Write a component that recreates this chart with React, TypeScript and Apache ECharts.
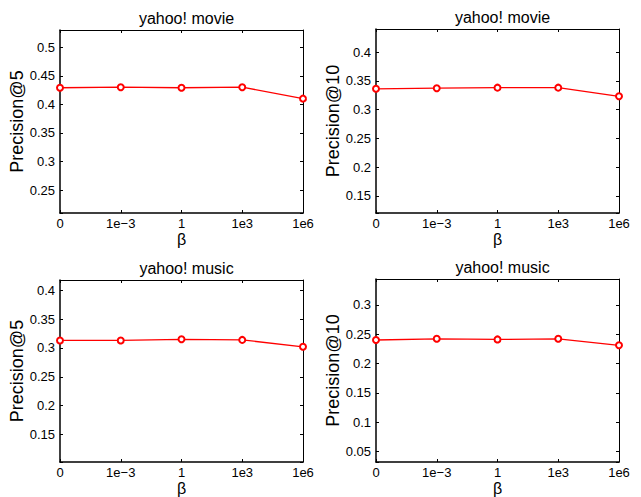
import React, { useEffect, useRef } from "react";
import * as echarts from "echarts";

const betaLabels = ["0", "1e−3", "1", "1e3", "1e6"];
const movieP5 = [0.429, 0.43, 0.429, 0.43, 0.41];
const movieP10 = [0.336, 0.337, 0.338, 0.338, 0.323];
const musicP5 = [0.313, 0.313, 0.315, 0.314, 0.302];
const musicP10 = [0.24, 0.242, 0.241, 0.242, 0.231];
const titles = ["yahoo! movie", "yahoo! movie", "yahoo! music", "yahoo! music"];
const yNames = ["Precision@5", "Precision@10", "Precision@5", "Precision@10"];
const yMins = [0.21, 0.12, 0.102, 0.032];
const yMaxs = [0.53, 0.44, 0.418, 0.344];
const allSeries = [movieP5, movieP10, musicP5, musicP10];

const FONT = "'Liberation Sans', Arial, Helvetica, sans-serif";

export default function App() {
  const ref = useRef<HTMLDivElement>(null);
  useEffect(() => {
    if (!ref.current) return;
    const chart = echarts.init(ref.current, null, { renderer: "svg" });
    const rects = [
      { left: 60, top: 30, width: 243, height: 183 },
      { left: 376, top: 29, width: 243, height: 184 },
      { left: 60, top: 280, width: 243, height: 182 },
      { left: 376, top: 279, width: 243, height: 183 },
    ];
    const fmt = (v: number) => {
      const r = Math.round(v * 20);
      if (Math.abs(v * 20 - r) > 1e-6) return "";
      return String(+v.toFixed(2));
    };
    const xAxis: any[] = [];
    const yAxis: any[] = [];
    const series: any[] = [];
    rects.forEach((_, i) => {
      xAxis.push({
        type: "category",
        gridIndex: i,
        data: betaLabels,
        boundaryGap: false,
        position: "bottom",
        name: "β",
        nameLocation: "middle",
        nameGap: 18,
        nameMoveOverlap: false,
        nameTextStyle: { fontSize: 16, color: "#000", fontFamily: FONT },
        axisLine: { show: true, lineStyle: { color: "#000", width: 1.5 } },
        axisTick: { show: true, inside: true, length: 3, lineStyle: { color: "#000" } },
        axisLabel: { color: "#000", fontSize: 13, margin: 4, fontFamily: FONT },
        splitLine: { show: false },
      });
      xAxis.push({
        type: "category",
        gridIndex: i,
        data: betaLabels,
        boundaryGap: false,
        position: "top",
        axisLine: { show: true, lineStyle: { color: "#000", width: 1 } },
        axisTick: { show: true, inside: true, length: 3, lineStyle: { color: "#000" } },
        axisLabel: { show: false },
        splitLine: { show: false },
      });
      yAxis.push({
        type: "value",
        gridIndex: i,
        min: yMins[i],
        max: yMaxs[i],
        position: "left",
        name: yNames[i],
        nameLocation: "middle",
        nameGap: 32,
        nameTextStyle: { fontSize: 18, color: "#000", fontFamily: FONT },
        axisLine: { show: true, lineStyle: { color: "#000", width: 1.5 } },
        axisTick: { show: true, inside: true, length: 3, lineStyle: { color: "#000" } },
        axisLabel: { color: "#000", fontSize: 13, margin: 5, fontFamily: FONT, formatter: fmt },
        splitLine: { show: false },
      });
      yAxis.push({
        type: "value",
        gridIndex: i,
        min: yMins[i],
        max: yMaxs[i],
        position: "right",
        axisLine: { show: true, lineStyle: { color: "#000", width: 1 } },
        axisTick: { show: true, inside: true, length: 3, lineStyle: { color: "#000" } },
        axisLabel: { show: false },
        splitLine: { show: false },
      });
      series.push({
        type: "line",
        xAxisIndex: i * 2,
        yAxisIndex: i * 2,
        data: allSeries[i],
        symbol: "emptyCircle",
        symbolSize: 6,
        clip: false,
        lineStyle: { color: "#ff0000", width: 1.3 },
        itemStyle: { color: "#ff0000", borderColor: "#ff0000", borderWidth: 1.5 },
      });
    });
    chart.setOption({
      animation: false,
      backgroundColor: "#fff",
      title: rects.map((r, i) => ({
        text: titles[i],
        left: r.left + r.width / 2,
        top: r.top - 25,
        textAlign: "center",
        textStyle: { fontSize: 16, fontWeight: "normal", color: "#000", fontFamily: FONT },
      })),
      grid: rects.map((r) => ({ ...r, show: false, containLabel: false })),
      xAxis,
      yAxis,
      series,
    });
    return () => chart.dispose();
  }, []);
  return (
    <div
      ref={ref}
      style={{ position: "fixed", left: 0, top: 0, width: 641, height: 497 }}
    />
  );
}
